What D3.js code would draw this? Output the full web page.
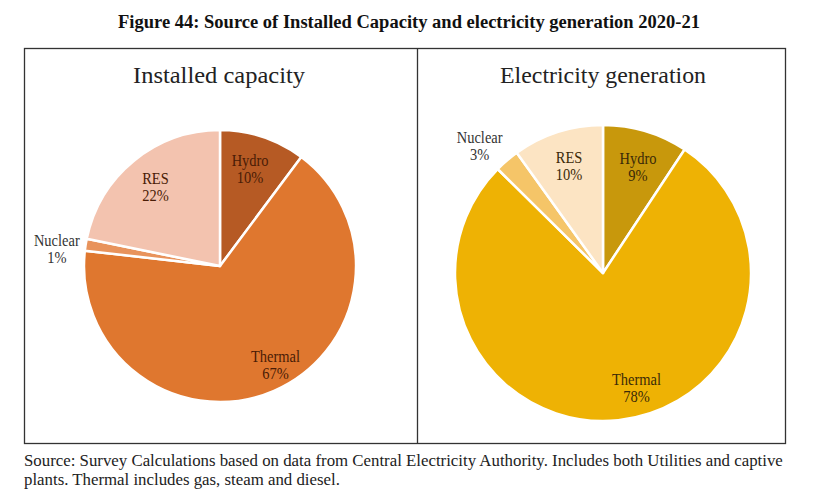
<!doctype html>
<html lang="en">
  <head>
    <meta charset="utf-8">
    <title>Figure 44</title>
    <style>
      body{margin:0;background:#fff;}
      svg{display:block;}
      text{font-family:"Liberation Serif","Times New Roman",Times,serif;}
    </style>
  </head>
  <body>
    <div class="holder"></div>
    <script src="https://cdn.jsdelivr.net/npm/d3@7/dist/d3.min.js"></script>
    <script>

      // data (shares in %)
      var categories = ["Hydro", "Thermal", "Nuclear", "RES"];
      var capacityValues = [10.2, 66.6, 1.4, 21.8];
      var generationValues = [9.3, 78.1, 2.7, 9.9];
      var panelTitles = ["Installed capacity", "Electricity generation"];
      var figTitle = "Figure 44: Source of Installed Capacity and electricity generation 2020-21";
      var sourceLines = [
        "Source: Survey Calculations based on data from Central Electricity Authority. Includes both Utilities and captive",
        "plants. Thermal includes gas, steam and diesel."
      ];

      var W = 831, H = 499;

      var svg = d3.select(".holder").append("svg")
          .attr("width", W)
          .attr("height", H);

      // main title
      svg.append("text")
          .attr("x", 409).attr("y", 28)
          .attr("text-anchor", "middle")
          .attr("textLength", 582)
          .attr("lengthAdjust", "spacingAndGlyphs")
          .style("font-weight", "bold")
          .style("font-size", "18px")
          .style("fill", "#111")
          .text(figTitle);

      // frame: two boxes side by side
      var frame = {left: 24.5, top: 48.5, mid: 417.5, right: 785.5, bottom: 443.5};
      svg.append("rect")
          .attr("x", frame.left).attr("y", frame.top)
          .attr("width", frame.right - frame.left)
          .attr("height", frame.bottom - frame.top)
          .style("fill", "none").style("stroke", "#333").style("stroke-width", 1.3);
      svg.append("line")
          .attr("x1", frame.mid).attr("x2", frame.mid)
          .attr("y1", frame.top).attr("y2", frame.bottom)
          .style("stroke", "#333").style("stroke-width", 1.3);

      // label width squeeze: "Thermal" is about 49px wide in the original
      var probe = svg.append("text").style("font-size", "16px").text("Thermal");
      var squeeze = Math.min(1, 49 / probe.node().getComputedTextLength());
      probe.remove();

      var panels = [
        {
          values: capacityValues, title: panelTitles[0],
          cx: 220, cy: 266, r: 136, titleX: 219, titleW: 172,
          colors: ["#b65a24", "#df772f", "#e8935c", "#f3c3af"],
          ink: ["#4a1c06", "#4a1c06", "#333", "#4a1c06"],
          nudge: [[-2, 1], [15, 6], [-2, 10], [0, 1]]
        },
        {
          values: generationValues, title: panelTitles[1],
          cx: 603, cy: 273, r: 148, titleX: 603, titleW: 206,
          colors: ["#c8980c", "#eeb204", "#f5c568", "#fce4c3"],
          ink: ["#3b2a08", "#3b2a08", "#333", "#3b2a08"],
          nudge: [[3, 1], [22, 6], [-8, 9], [0, 0]]
        }
      ];

      var pie = d3.pie().sort(null).value(function(d){ return d; });

      panels.forEach(function(p){
        var g = svg.append("g").attr("transform", "translate(" + p.cx + "," + p.cy + ")");

        svg.append("text")
            .attr("x", p.titleX).attr("y", 83)
            .attr("text-anchor", "middle")
            .attr("textLength", p.titleW)
            .attr("lengthAdjust", "spacingAndGlyphs")
            .style("font-size", "23px")
            .style("fill", "#222")
            .text(p.title);

        var arcs = pie(p.values);
        var arc = d3.arc().innerRadius(0).outerRadius(p.r);
        var inner = d3.arc().innerRadius(p.r * 0.75).outerRadius(p.r * 0.75);
        var outer = d3.arc().innerRadius(p.r * 1.2).outerRadius(p.r * 1.2);

        g.selectAll("path")
            .data(arcs)
            .enter().append("path")
            .attr("d", arc)
            .style("fill", function(d, i){ return p.colors[i]; })
            .style("stroke", "#fff")
            .style("stroke-width", 2.5)
            .style("stroke-linejoin", "round");

        var labels = g.selectAll(".lbl")
            .data(arcs)
            .enter().append("text")
            .attr("class", "lbl")
            .attr("text-anchor", "middle")
            .style("font-size", "16px")
            .style("fill", function(d, i){ return p.ink[i]; })
            .attr("transform", function(d, i){
              // small slices get their label outside the pie
              var c = (d.value < 5 ? outer : inner).centroid(d);
              var x = c[0] + p.nudge[i][0], y = c[1] - 4 + p.nudge[i][1];
              return "translate(" + x + "," + y + ") scale(" + squeeze + ",1)";
            });

        labels.append("tspan")
            .attr("x", 0).attr("dy", 0)
            .text(function(d, i){ return categories[i]; });
        labels.append("tspan")
            .attr("x", 0).attr("dy", 17)
            .text(function(d){ return Math.round(d.value) + "%"; });
      });

      // source note, squeezed to match the original width
      var src = svg.append("g").attr("transform", "translate(24,0)");
      var lines = src.selectAll("text")
          .data(sourceLines)
          .enter().append("text")
          .attr("x", 0)
          .attr("y", function(d, i){ return 466 + i * 19; })
          .style("font-size", "17px")
          .style("fill", "#222")
          .text(function(d){ return d; });
      var natural = lines.nodes()[0].getComputedTextLength();
      src.attr("transform", "translate(24,0) scale(" + (759 / natural) + ",1)");

    </script>
  </body>
</html>
